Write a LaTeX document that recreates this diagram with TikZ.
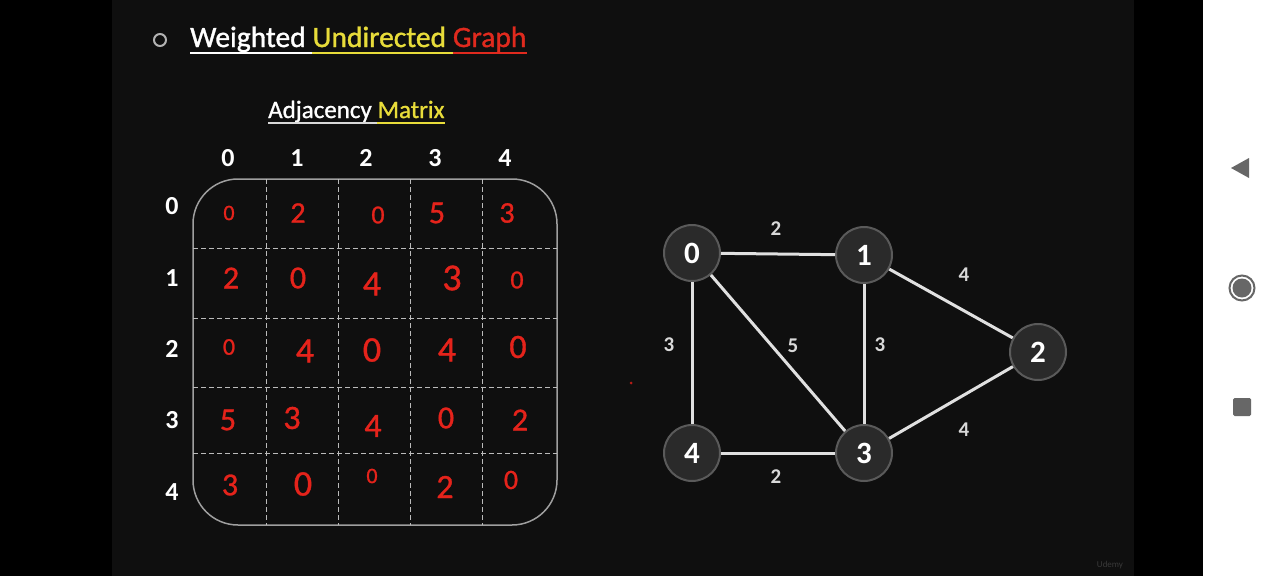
\documentclass[tikz,border=0pt]{standalone}
\usepackage{fontspec}
\setmainfont{Carlito}
\definecolor{slidebg}{HTML}{0F0F0F}
\definecolor{ttlyellow}{HTML}{E8DC3A}
\definecolor{ttlred}{HTML}{E02A1E}
\definecolor{handred}{HTML}{E5231B}
\definecolor{nodefill}{HTML}{2A2A2A}
\definecolor{nodeedge}{HTML}{5A5A5A}
\definecolor{navgray}{HTML}{676767}
\definecolor{gridgray}{HTML}{BBBBBB}
\tikzset{
  hdr/.style={text=white, font=\fontsize{26}{26}\selectfont\bfseries, inner sep=0},
  hw/.style={text=handred, font=\fontsize{30}{30}\selectfont\addfontfeatures{FakeBold=1}, inner sep=0},
  gnode/.style={circle, minimum size=56pt, inner sep=0, fill=nodefill, draw=nodeedge, line width=2pt, text=white, font=\fontsize{31}{31}\selectfont\bfseries},
  gedge/.style={draw=white!88!black, line width=3pt},
  wlabel/.style={text=white!85!black, font=\fontsize{21}{21}\selectfont\bfseries, inner sep=0},
  ttl/.style={anchor=base west, inner sep=0, font=\fontsize{29.5}{29.5}\selectfont\addfontfeatures{FakeBold=1.2}},
  sub/.style={anchor=base west, inner sep=0, font=\fontsize{25}{25}\selectfont\addfontfeatures{FakeBold=1}},
}
\begin{document}
\begin{tikzpicture}[x=1pt,y=-1pt]
\useasboundingbox (0,0) rectangle (1280,576);
% backgrounds
\fill[black] (0,0) rectangle (1280,576);
\fill[slidebg] (112,0) rectangle (1134,576);
\fill[white] (1203,0) rectangle (1280,576);

% title
\draw[gray!60!white, line width=2pt] (160,40) circle (6);
\node[ttl, text=white] (t1) at (190,47) {Weighted};
\node[ttl, text=ttlyellow] (t2) at ([xshift=6.5pt]t1.base east) {Undirected};
\node[ttl, text=ttlred] (t3) at ([xshift=6.5pt]t2.base east) {Graph};
\draw[white, line width=2.5pt] ([yshift=-6pt]t1.base west) -- ([yshift=-6pt]t2.base west);
\draw[ttlyellow, line width=2.5pt] ([yshift=-6pt]t2.base west) -- ([yshift=-6pt]t3.base west);
\draw[ttlred, line width=2.5pt] ([yshift=-6pt]t3.base west) -- ([yshift=-6pt]t3.base east);

% subtitle
\node[sub, text=white] (s1) at (268,118) {Adjacency};
\node[sub, text=ttlyellow] (s2) at ([xshift=5.5pt]s1.base east) {Matrix};
\draw[white!85!black, line width=2pt] ([yshift=-5pt]s1.base west) -- ([yshift=-5pt]s2.base west);
\draw[ttlyellow, line width=2pt] ([yshift=-5pt]s2.base west) -- ([yshift=-5pt]s2.base east);

% headers
\node[hdr] (c0) at (228,158) {0};
\node[hdr] (c1) at (297,158) {1};
\node[hdr] (c2) at (366,158) {2};
\node[hdr] (c3) at (435,158) {3};
\node[hdr] (c4) at (505,158) {4};
\node[hdr] (r0) at (172,206) {0};
\node[hdr] (r1) at (172,278) {1};
\node[hdr] (r2) at (172,349) {2};
\node[hdr] (r3) at (172,420) {3};
\node[hdr] (r4) at (172,492) {4};

% matrix box
\draw[gray!75!white, line width=1.5pt, rounded corners=45pt] (193,179) rectangle (557,525);
\foreach \x in {266,338,410,482} \draw[gridgray, dash pattern=on 5pt off 3pt, line width=1pt] (\x,179) -- (\x,525);
\foreach \y in {248,318,387,453} \draw[gridgray, dash pattern=on 5pt off 3pt, line width=1pt] (193,\y) -- (557,\y);

% red handwritten entries
\node[hw, font=\fontsize{22}{22}\selectfont\addfontfeatures{FakeBold=1}] (m00) at (229,213) {0};
\node[hw] (m01) at (298,213) {2};
\node[hw, font=\fontsize{26}{26}\selectfont\addfontfeatures{FakeBold=1}] (m02) at (378,215) {0};
\node[hw, font=\fontsize{32}{32}\selectfont\addfontfeatures{FakeBold=1}] (m03) at (437,213) {5};
\node[hw] (m04) at (507,213) {3};
\node[hw, font=\fontsize{32}{32}\selectfont\addfontfeatures{FakeBold=1}] (m10) at (231,278) {2};
\node[hw, font=\fontsize{32}{32}\selectfont\addfontfeatures{FakeBold=1}] (m11) at (298,278) {0};
\node[hw, font=\fontsize{36}{36}\selectfont\addfontfeatures{FakeBold=1}] (m12) at (372,284) {4};
\node[hw, font=\fontsize{38}{38}\selectfont\addfontfeatures{FakeBold=1}] (m13) at (452,278) {3};
\node[hw, font=\fontsize{26}{26}\selectfont\addfontfeatures{FakeBold=1}] (m14) at (517,280) {0};
\node[hw, font=\fontsize{24}{24}\selectfont\addfontfeatures{FakeBold=1}] (m20) at (229,347) {0};
\node[hw, font=\fontsize{36}{36}\selectfont\addfontfeatures{FakeBold=1}] (m21) at (305,351) {4};
\node[hw, font=\fontsize{36}{36}\selectfont\addfontfeatures{FakeBold=1}] (m22) at (372,350) {0};
\node[hw, font=\fontsize{36}{36}\selectfont\addfontfeatures{FakeBold=1}] (m23) at (447,350) {4};
\node[hw, font=\fontsize{34}{34}\selectfont\addfontfeatures{FakeBold=1}] (m24) at (518,347) {0};
\node[hw, font=\fontsize{32}{32}\selectfont\addfontfeatures{FakeBold=1}] (m30) at (228,420) {5};
\node[hw, font=\fontsize{34}{34}\selectfont\addfontfeatures{FakeBold=1}] (m31) at (292,418) {3};
\node[hw, font=\fontsize{34}{34}\selectfont\addfontfeatures{FakeBold=1}] (m32) at (373,426) {4};
\node[hw, font=\fontsize{32}{32}\selectfont\addfontfeatures{FakeBold=1}] (m33) at (446,418) {0};
\node[hw, font=\fontsize{32}{32}\selectfont\addfontfeatures{FakeBold=1}] (m34) at (520,420) {2};
\node[hw, font=\fontsize{32}{32}\selectfont\addfontfeatures{FakeBold=1}] (m40) at (230,485) {3};
\node[hw, font=\fontsize{36}{36}\selectfont\addfontfeatures{FakeBold=1}] (m41) at (303,484) {0};
\node[hw, font=\fontsize{22}{22}\selectfont\addfontfeatures{FakeBold=1}] (m42) at (372,476) {0};
\node[hw, font=\fontsize{34}{34}\selectfont\addfontfeatures{FakeBold=1}] (m43) at (445,487) {2};
\node[hw, font=\fontsize{28}{28}\selectfont\addfontfeatures{FakeBold=1}] (m44) at (511,480) {0};

% small red dot
\fill[handred!80!black] (631,383) circle (1.5);

% graph
\node[gnode] (n0) at (692,253) {0};
\node[gnode] (n1) at (864,255) {1};
\node[gnode] (n2) at (1038,352) {2};
\node[gnode] (n3) at (864,453) {3};
\node[gnode] (n4) at (692,453) {4};
\draw[gedge] (n0) -- (n1);
\draw[gedge] (n1) -- (n2);
\draw[gedge] (n0) -- (n4);
\draw[gedge] (n0) -- (n3);
\draw[gedge] (n1) -- (n3);
\draw[gedge] (n2) -- (n3);
\draw[gedge] (n4) -- (n3);
\node[wlabel] (w01) at (776,229) {2};
\node[wlabel] (w12) at (964,275) {4};
\node[wlabel] (w04) at (669,345) {3};
\node[wlabel] (w03) at (793,346) {5};
\node[wlabel] (w13) at (880,345) {3};
\node[wlabel] (w23) at (964,430) {4};
\node[wlabel] (w43) at (776,477) {2};

% watermark
\node[text=gray!45!black, font=\fontsize{9}{9}\selectfont, inner sep=0] (udemy) at (1110,565) {Udemy};

% nav buttons
\fill[navgray] (1231,168) -- (1249,158) -- (1249,178) -- cycle;
\draw[navgray, line width=2pt] (1242,288) circle (12.5);
\fill[navgray] (1242,288) circle (9.5);
\fill[navgray, rounded corners=1.5pt] (1233,398) rectangle (1251,416);
\end{tikzpicture}
\end{document}
